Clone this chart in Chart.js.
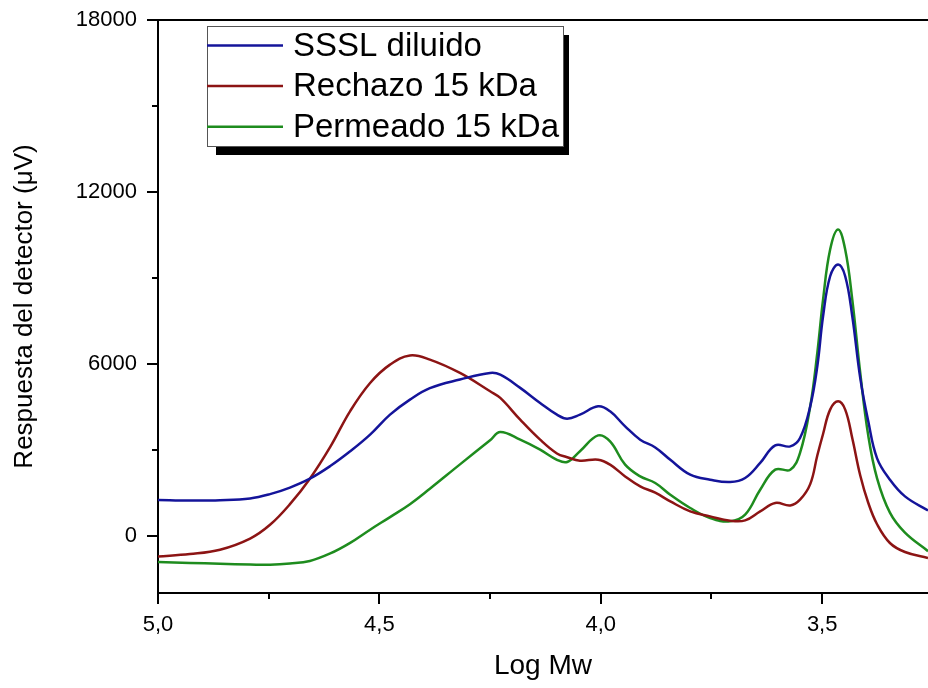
<!DOCTYPE html>
<html>
<head>
<meta charset="utf-8">
<script src="https://cdn.jsdelivr.net/npm/chart.js@4/dist/chart.umd.min.js"></script>
<style>
  html, body { margin: 0; padding: 0; background: #ffffff; }
  #wrap { width: 928px; height: 688px; }
</style>
</head>
<body>
<div id="wrap"><canvas id="c" width="928" height="688"></canvas></div>
<script>
// ---- Data ----
const logMw = [5.000, 4.928, 4.860, 4.792, 4.747, 4.702, 4.657, 4.611, 4.566, 4.521,
               4.476, 4.431, 4.386, 4.318, 4.250, 4.227, 4.182, 4.137, 4.099, 4.076,
               4.047, 4.006, 3.979, 3.945, 3.911, 3.877, 3.843, 3.798, 3.753, 3.708,
               3.674, 3.640, 3.606, 3.572, 3.550, 3.527, 3.511, 3.498, 3.482, 3.464,
               3.448, 3.432, 3.414, 3.396, 3.376, 3.347, 3.313, 3.261];

const ssslDiluido = [1250, 1230, 1240, 1300, 1450, 1680, 1990, 2430, 2945, 3527,
                     4225, 4750, 5150, 5450, 5680, 5620, 5160, 4633, 4225, 4085,
                     4225, 4515, 4340, 3817, 3352, 3080, 2650, 2130, 1955, 1875,
                     2015, 2540, 3153, 3118, 3411, 4515, 5912, 7658, 9055, 9463,
                     9055, 7658, 5500, 4000, 2700, 1955, 1372, 880];

const rechazo15 = [-723, -640, -489, -100, 380, 1100, 1990, 3100, 4350, 5330,
                   5971, 6290, 6146, 5680, 5040, 4808, 4050, 3352, 2870, 2740,
                   2619, 2654, 2480, 2070, 1722, 1500, 1198, 849, 674, 524,
                   534, 849, 1142, 1058, 1257, 1800, 2800, 3550, 4400, 4690,
                   4400, 3400, 2100, 1150, 400, -255, -570, -779];

const permeado15 = [-919, -950, -980, -1005, -1013, -970, -880, -620, -250, 210,
                    650, 1100, 1640, 2490, 3330, 3620, 3352, 3003, 2650, 2573,
                    2950, 3500, 3293, 2480, 2070, 1840, 1430, 967, 618, 500,
                    733, 1606, 2305, 2305, 2888, 4515, 6380, 8241, 9987, 10686,
                    9987, 8241, 5680, 3500, 2000, 803, 105, -540];

const seriesNames = ['SSSL diluido', 'Rechazo 15 kDa', 'Permeado 15 kDa'];
const seriesColors = ['#14149a', '#8c1414', '#1e8c1e'];

const xTicks = [5.0, 4.75, 4.5, 4.25, 4.0, 3.75, 3.5];
const yTicks = [0, 3000, 6000, 9000, 12000, 15000, 18000];

const xTitle = 'Log Mw';
const yTitle = 'Respuesta del detector (\u03BCV)';

// ---- Build datasets ----
function pts(ys) { return logMw.map((x, i) => ({ x: x, y: ys[i] })); }
const allSeries = [ssslDiluido, rechazo15, permeado15];
const datasets = allSeries.map((ys, i) => ({
  label: seriesNames[i],
  data: pts(ys),
  borderColor: seriesColors[i],
  backgroundColor: seriesColors[i],
  borderWidth: 2.5,
  pointRadius: 0,
  tension: 0.4,
  fill: false
}));

const FONT = '"Liberation Sans", Arial, sans-serif';

// Tick marks (major long, minor short), top border and shadowed legend
const decorPlugin = {
  id: 'decor',
  afterDraw(chart) {
    const ctx = chart.ctx;
    const a = chart.chartArea;
    const xs = chart.scales.x, ys = chart.scales.y;
    ctx.save();
    ctx.strokeStyle = '#000';
    ctx.lineWidth = 2;
    // top border
    ctx.beginPath();
    ctx.moveTo(a.left - 1, a.top);
    ctx.lineTo(a.right, a.top);
    ctx.stroke();
    // y ticks
    ys.ticks.forEach(t => {
      const p = Math.round(ys.getPixelForValue(t.value));
      const len = (t.value % 6000 === 0) ? 11 : 6;
      ctx.beginPath();
      ctx.moveTo(a.left - len, p);
      ctx.lineTo(a.left, p);
      ctx.stroke();
    });
    // x ticks
    xs.ticks.forEach(t => {
      const p = Math.round(xs.getPixelForValue(t.value));
      const major = Math.abs(t.value * 2 - Math.round(t.value * 2)) < 1e-6;
      const len = major ? 11 : 6;
      ctx.beginPath();
      ctx.moveTo(p, a.bottom);
      ctx.lineTo(p, a.bottom + len);
      ctx.stroke();
    });
    // legend
    const bx = 207, by = 26, bw = 356, bh = 120;
    ctx.fillStyle = '#000';
    ctx.fillRect(bx + 9, by + 9, bw - 3, bh);
    ctx.fillStyle = '#fff';
    ctx.fillRect(bx, by, bw, bh);
    ctx.lineWidth = 1;
    ctx.strokeStyle = '#555';
    ctx.strokeRect(bx + 0.5, by + 0.5, bw, bh);
    ctx.font = '33px ' + FONT;
    ctx.textBaseline = 'middle';
    ctx.textAlign = 'left';
    chart.data.datasets.forEach((ds, i) => {
      const yy = 45.5 + i * 40.6;
      ctx.strokeStyle = ds.borderColor;
      ctx.lineWidth = 2.5;
      ctx.beginPath();
      ctx.moveTo(bx, yy);
      ctx.lineTo(bx + 76, yy);
      ctx.stroke();
      ctx.fillStyle = '#000';
      ctx.fillText(ds.label, bx + 86, yy + 1);
    });
    ctx.restore();
  }
};

new Chart(document.getElementById('c'), {
  type: 'line',
  data: { datasets: datasets },
  plugins: [decorPlugin],
  options: {
    responsive: false,
    animation: false,
    devicePixelRatio: 1,
    layout: { padding: { top: 20, right: 0, left: 0, bottom: 0 } },
    plugins: { legend: { display: false }, tooltip: { enabled: false } },
    scales: {
      x: {
        type: 'linear',
        reverse: true,
        min: 3.261,
        max: 5.0,
        afterBuildTicks(s) { s.ticks = xTicks.map(v => ({ value: v })); },
        afterFit(s) { s.height = 95; s.paddingLeft = 0; s.paddingRight = 0; },
        grid: { display: false, drawTicks: false },
        border: { display: true, color: '#000', width: 2 },
        ticks: {
          padding: 19,
          color: '#000',
          maxRotation: 0,
          autoSkip: false,
          font: { family: FONT, size: 22 },
          callback(v) {
            const major = Math.abs(v * 2 - Math.round(v * 2)) < 1e-6;
            return major ? v.toFixed(1).replace('.', ',') : '';
          }
        },
        title: {
          display: true,
          text: xTitle,
          color: '#000',
          font: { family: FONT, size: 28 },
          padding: { top: 0, bottom: 5 }
        }
      },
      y: {
        type: 'linear',
        min: -2000,
        max: 18000,
        afterBuildTicks(s) { s.ticks = yTicks.map(v => ({ value: v })); },
        afterFit(s) { s.width = 158; s.paddingTop = 0; s.paddingBottom = 0; },
        grid: { display: false, drawTicks: false },
        border: { display: true, color: '#000', width: 2 },
        ticks: {
          padding: 21,
          color: '#000',
          autoSkip: false,
          font: { family: FONT, size: 22 },
          callback(v) { return (v % 6000 === 0) ? String(v) : ''; }
        },
        title: {
          display: true,
          text: yTitle,
          color: '#000',
          font: { family: FONT, size: 26 },
          padding: { top: 9, bottom: 0 }
        }
      }
    }
  }
});
</script>
</body>
</html>
